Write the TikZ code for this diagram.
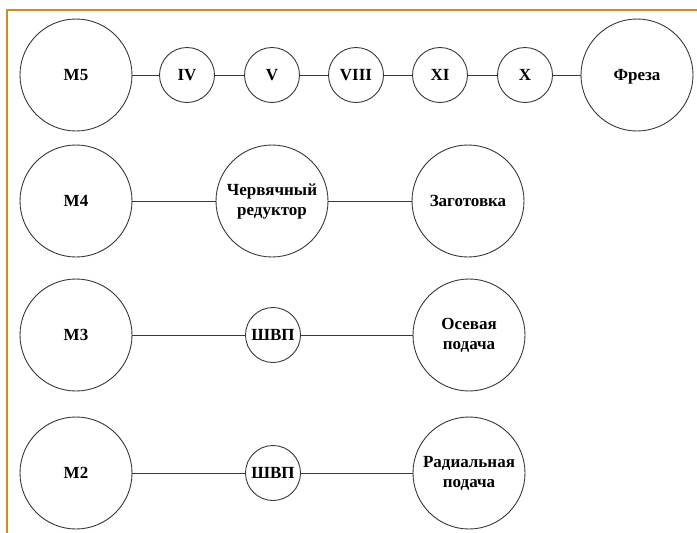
\documentclass[tikz,border=0pt]{standalone}
\usepackage{fontspec}
\setmainfont{Liberation Serif}
\definecolor{frameorange}{RGB}{212,140,32}
\definecolor{linegray}{RGB}{55,55,55}
\tikzset{
    unit/.style={circle, draw=linegray, line width=0.9pt, inner sep=0pt,
        align=center, font=\fontsize{17}{20}\selectfont\rmfamily\bfseries},
    bigunit/.style={unit, minimum size=112pt},
    smallunit/.style={unit, minimum size=55pt},
    link/.style={draw=linegray, line width=1pt}
}
\begin{document}
\begin{tikzpicture}[x=1pt, y=-1pt]
    \useasboundingbox (0,0) rectangle (697,533);
    \draw[frameorange, line width=1.6pt] (7,533) -- (7,10) -- (697,10);

    % M5 chain
    \node[bigunit] (m5) at (76,75) {M5};
    \node[smallunit] (iv) at (187,75) {IV};
    \node[smallunit] (v) at (272,75) {V};
    \node[smallunit] (viii) at (356,75) {VIII};
    \node[smallunit] (xi) at (440,75) {XI};
    \node[smallunit] (x) at (525,75) {X};
    \node[bigunit, text depth=0pt] (freza) at (637,75) {Фреза};
    \draw[link] (m5) -- (iv) -- (v) -- (viii) -- (xi) -- (x) -- (freza);

    % M4 chain
    \node[bigunit] (m4) at (76,201) {M4};
    \node[bigunit] (worm) at (272,201) {Червячный\\редуктор};
    \node[bigunit] (blank) at (468,201) {Заготовка};
    \draw[link] (m4) -- (worm) -- (blank);

    % M3 chain
    \node[bigunit] (m3) at (76,335) {M3};
    \node[smallunit] (screwa) at (273,335) {ШВП};
    \node[bigunit] (axial) at (469,335) {Осевая\\подача};
    \draw[link] (m3) -- (screwa) -- (axial);

    % M2 chain
    \node[bigunit] (m2) at (76,473) {M2};
    \node[smallunit] (screwb) at (273,473) {ШВП};
    \node[bigunit] (radial) at (469,473) {Радиальная\\подача};
    \draw[link] (m2) -- (screwb) -- (radial);
\end{tikzpicture}
\end{document}
